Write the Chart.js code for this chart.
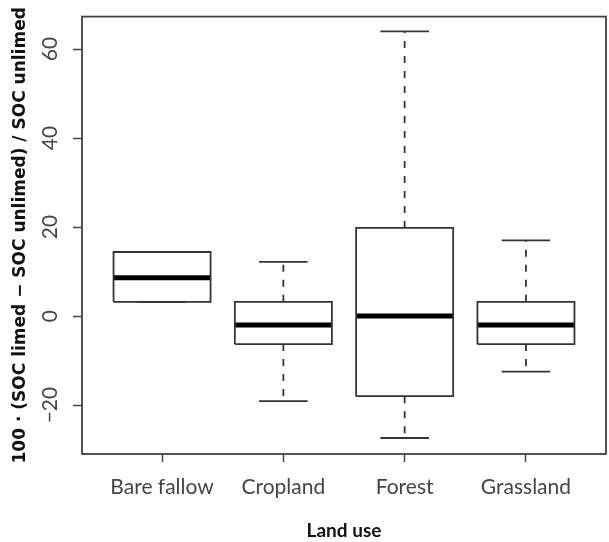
<!DOCTYPE html>
<html>
<head>
<meta charset="utf-8">
<script src="https://cdn.jsdelivr.net/npm/chart.js@4"></script>
<style>
  html, body { margin: 0; padding: 0; background: #ffffff; }
  #wrap { width: 609px; height: 542px; }
</style>
</head>
<body>
<div id="wrap"><canvas id="c" width="609" height="542"></canvas></div>
<script>
// ---- data ----
const categories   = ['Bare fallow', 'Cropland', 'Forest', 'Grassland'];
const whiskerLow   = [3.2, -19.1, -27.4, -12.5];
const quartile1    = [3.2, -6.3, -18.0, -6.3];
const medians      = [8.6, -2.0, 0.0, -2.0];
const quartile3    = [14.4, 3.2, 19.8, 3.2];
const whiskerHigh  = [14.4, 12.2, 64.0, 17.0];
const yTicks       = [-20, 0, 20, 40, 60];

const BOX_HALF = 0.4, STAPLE_HALF = 0.2;

// helpers building segment point lists (null separates segments)
function pushSeg(arr, pts) { pts.forEach(p => arr.push({x: p[0], y: p[1]})); arr.push({x: pts[pts.length-1][0], y: null}); }

const boxPts = [], medPts = [], whiskPts = [], staplePts = [];
categories.forEach((c, i) => {
  const x = i + 1;
  pushSeg(boxPts, [[x - BOX_HALF, quartile1[i]], [x + BOX_HALF, quartile1[i]], [x + BOX_HALF, quartile3[i]], [x - BOX_HALF, quartile3[i]], [x - BOX_HALF, quartile1[i]]]);
  pushSeg(medPts, [[x - BOX_HALF, medians[i]], [x + BOX_HALF, medians[i]]]);
  if (whiskerHigh[i] > quartile3[i]) pushSeg(whiskPts, [[x, quartile3[i]], [x, whiskerHigh[i]]]);
  if (whiskerLow[i] < quartile1[i]) pushSeg(whiskPts, [[x, quartile1[i]], [x, whiskerLow[i]]]);
  pushSeg(staplePts, [[x - STAPLE_HALF, whiskerHigh[i]], [x + STAPLE_HALF, whiskerHigh[i]]]);
  pushSeg(staplePts, [[x - STAPLE_HALF, whiskerLow[i]], [x + STAPLE_HALF, whiskerLow[i]]]);
});

const lineBase = { showLine: true, spanGaps: false, pointRadius: 0, pointHoverRadius: 0, fill: false, tension: 0, borderCapStyle: 'butt' };

const frame = {
  id: 'frame',
  afterDraw(chart) {
    const a = chart.chartArea, ctx = chart.ctx;
    ctx.save();
    ctx.strokeStyle = '#444';
    ctx.lineWidth = 1.8;
    ctx.strokeRect(a.left, a.top, a.right - a.left, a.bottom - a.top);
    ctx.restore();
  }
};

new Chart(document.getElementById('c'), {
  type: 'scatter',
  data: {
    datasets: [
      Object.assign({}, lineBase, { label: 'whiskers', data: whiskPts, borderColor: '#333', borderWidth: 1.8, borderDash: [7, 8] }),
      Object.assign({}, lineBase, { label: 'staples', data: staplePts, borderColor: '#333', borderWidth: 1.8 }),
      Object.assign({}, lineBase, { label: 'boxes', data: boxPts, borderColor: '#333', borderWidth: 1.8, borderJoinStyle: 'miter' }),
      Object.assign({}, lineBase, { label: 'medians', data: medPts, borderColor: '#000', borderWidth: 5 })
    ]
  },
  plugins: [frame],
  options: {
    responsive: false,
    animation: false,
    events: [],
    layout: { padding: { top: 15, right: 3, left: 0, bottom: 0 } },
    plugins: { legend: { display: false }, tooltip: { enabled: false } },
    scales: {
      x: {
        type: 'linear',
        min: 0.34, max: 4.66,
        afterBuildTicks: s => { s.ticks = categories.map((c, i) => ({ value: i + 1 })); },
        afterFit: s => { s.height = 88; },
        grid: { drawOnChartArea: false, drawTicks: true, tickLength: 8, tickColor: '#444', tickWidth: 1.5 },
        border: { display: false },
        ticks: {
          padding: 13,
          color: '#444',
          font: { family: 'Lato', size: 21 },
          maxRotation: 0, minRotation: 0,
          callback: v => categories[Math.round(v) - 1]
        },
        title: { display: true, text: 'Land use', color: '#111', font: { family: 'Lato', size: 19, weight: 'bold' }, padding: { top: 0, bottom: 0 } }
      },
      y: {
        type: 'linear',
        min: -31.0, max: 67.3,
        afterBuildTicks: s => { s.ticks = yTicks.map(v => ({ value: v })); },
        afterFit: s => { s.width = 82; },
        grid: { drawOnChartArea: false, drawTicks: true, tickLength: 9, tickColor: '#444', tickWidth: 1.5 },
        border: { display: false },
        ticks: {
          padding: 4,
          color: '#444',
          crossAlign: 'center',
          minRotation: 90, maxRotation: 90,
          font: { family: 'Lato', size: 21 },
          callback: v => String(v).replace('-', '\u2212')
        },
        title: { display: true, text: '100 · (SOC limed − SOC unlimed) / SOC unlimed', color: '#111', font: { family: 'DejaVu Sans', size: 17, weight: 'bold' }, padding: { top: 10, bottom: 0 } }
      }
    }
  }
});
</script>
</body>
</html>
